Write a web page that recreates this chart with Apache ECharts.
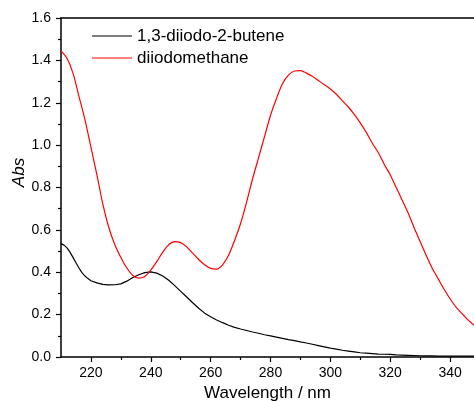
<!DOCTYPE html>
<html><head><meta charset="utf-8">
<script src="https://cdn.jsdelivr.net/npm/echarts@6/dist/echarts.min.js"></script>
<style>html,body{margin:0;padding:0;background:#fff}#c{width:474px;height:401px}</style>
</head><body><div id="c"></div>
<script>
var butWl = [210,211,212,213,214,215,216,217,218,219,220,222,224,226,228,230,232,234,236,238,240,242,244,246,248,250,252,254,256,258,260,262,264,266,268,270,272,274,276,278,280,282,284,286,288,290,292,294,296,298,300,302,304,306,308,310,312,314,316,318,320,322,324,326,328,330,332,334,336,338,340,342,344,346,348];
var butAbs = [0.535,0.528,0.515,0.495,0.47,0.445,0.42,0.398,0.382,0.37,0.36,0.35,0.343,0.34,0.341,0.345,0.358,0.375,0.388,0.398,0.402,0.396,0.382,0.362,0.337,0.31,0.283,0.256,0.23,0.207,0.19,0.175,0.162,0.15,0.14,0.132,0.125,0.118,0.112,0.105,0.1,0.094,0.088,0.082,0.077,0.071,0.066,0.06,0.054,0.048,0.042,0.037,0.032,0.028,0.024,0.02,0.018,0.016,0.014,0.013,0.012,0.01,0.009,0.008,0.007,0.006,0.005,0.005,0.004,0.004,0.004,0.004,0.004,0.004,0.004];
var dimWl = [210,212,214,216,218,220,222,224,226,228,230,232,234,236,238,240,242,244,246,248,250,252,254,256,258,260,262,264,266,268,270,272,274,276,278,280,282,284,286,288,290,292,294,296,298,300,302,304,306,308,310,312,314,316,318,320,322,324,326,328,330,332,334,336,338,340,342,344,346,348];
var dimAbs = [1.445,1.41,1.34,1.23,1.12,0.99,0.86,0.72,0.61,0.53,0.47,0.42,0.385,0.372,0.38,0.41,0.45,0.495,0.53,0.545,0.54,0.52,0.49,0.46,0.435,0.418,0.415,0.435,0.48,0.55,0.63,0.73,0.84,0.94,1.04,1.14,1.22,1.29,1.33,1.35,1.352,1.34,1.325,1.305,1.285,1.265,1.24,1.21,1.18,1.145,1.105,1.06,1.01,0.965,0.91,0.86,0.80,0.74,0.68,0.61,0.545,0.48,0.42,0.37,0.32,0.275,0.235,0.205,0.175,0.15];
var xMajor = [220,240,260,280,300,320,340];
var xMinor = [230,250,270,290,310,330];
var seriesNames = ['1,3-diiodo-2-butene','diiodomethane'];

function pairs(a,b){return a.map(function(v,i){return [v,b[i]];});}
var font = "'Liberation Sans', Arial, sans-serif";
var chart = echarts.init(document.getElementById('c'));
chart.setOption({
  animation:false,
  backgroundColor:'#fff',
  grid:{left:61,top:18,right:0,bottom:44,containLabel:false,outerBoundsMode:'none'},
  legend:{orient:'vertical',left:87,top:22,itemWidth:40,itemHeight:14,itemGap:4,icon:'path://M0,6.5L40,6.5L40,7.7L0,7.7Z',
    textStyle:{fontFamily:font,fontSize:17,color:'#000',lineHeight:18},
    data:seriesNames},
  xAxis:[{
    type:'value',min:210,max:348,position:'bottom',
    name:'Wavelength / nm',nameLocation:'middle',nameGap:25,
    nameTextStyle:{fontFamily:font,fontSize:17,color:'#000'},
    axisLine:{show:true,onZero:false,lineStyle:{color:'#000',width:1.5}},
    axisTick:{show:true,length:5,customValues:xMajor,lineStyle:{color:'#000',width:1.2}},
    axisLabel:{customValues:xMajor,fontFamily:font,fontSize:14,color:'#000',margin:9},
    splitLine:{show:false}
  },{
    type:'value',min:210,max:348,position:'bottom',gridIndex:0,
    axisLine:{show:false},
    axisTick:{show:true,length:3,customValues:xMinor,lineStyle:{color:'#000',width:1.2}},
    axisLabel:{show:false},splitLine:{show:false}
  },{
    type:'value',min:210,max:348,position:'top',
    axisLine:{show:true,onZero:false,lineStyle:{color:'#000',width:1.5}},
    axisTick:{show:false},axisLabel:{show:false},splitLine:{show:false}
  }],
  yAxis:{
    type:'value',min:0,max:1.6,interval:0.2,
    name:'Abs',nameLocation:'middle',nameGap:33,nameMoveOverlap:false,
    nameTextStyle:{fontFamily:font,fontSize:17,fontStyle:'italic',color:'#000',padding:[0,0,0,30]},
    axisLine:{show:true,onZero:false,lineStyle:{color:'#000',width:1.5}},
    axisTick:{show:true,length:5,lineStyle:{color:'#000',width:1.2}},
    minorTick:{show:true,splitNumber:2,length:3,lineStyle:{color:'#000',width:1.2}},
    axisLabel:{fontFamily:font,fontSize:14,color:'#000',margin:10,formatter:function(v){return v.toFixed(1);}},
    splitLine:{show:false}
  },
  series:[{
    name:seriesNames[0],type:'line',showSymbol:false,smooth:false,
    data:pairs(butWl,butAbs),lineStyle:{color:'#000',width:1.2},itemStyle:{color:'#000'}
  },{
    name:seriesNames[1],type:'line',showSymbol:false,smooth:0.3,
    data:pairs(dimWl,dimAbs),lineStyle:{color:'#ff0000',width:1.2},itemStyle:{color:'#ff0000'}
  }]
});
</script></body></html>
